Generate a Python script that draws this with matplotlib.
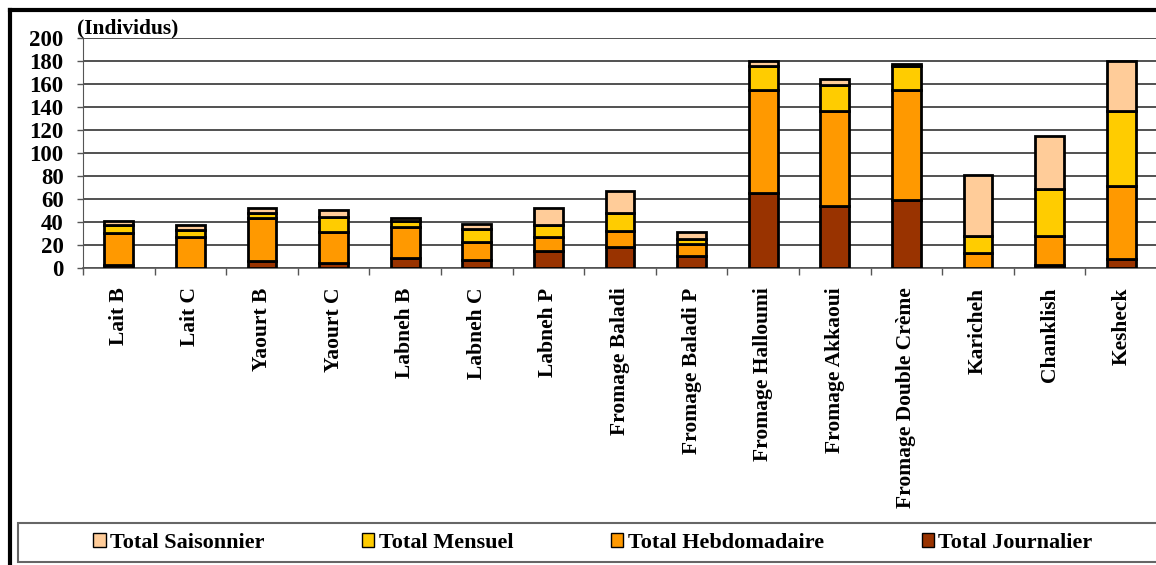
# stacked bars: frequence de consommation des produits laitiers
import numpy as np
import matplotlib.pyplot as plt
from matplotlib.patches import Rectangle, Patch
from matplotlib.lines import Line2D

produits = ['Lait B', 'Lait C', 'Yaourt B', 'Yaourt C', 'Labneh B', 'Labneh C',
            'Labneh P', 'Fromage Baladi', 'Fromage Baladi P', 'Fromage Halloumi',
            'Fromage Akkaoui', 'Fromage Double Crème', 'Karicheh', 'Chanklish',
            'Kesheck']
journalier   = [3, 0, 6, 4, 9, 7, 15, 18, 10, 65, 54, 59, 0, 3, 8]
hebdomadaire = [27, 27, 37, 27, 27, 16, 12, 14, 11, 90, 82, 96, 13, 25, 63]
mensuel      = [7, 6, 5, 13, 5, 11, 10, 16, 4, 20, 23, 20, 15, 41, 65]
saisonnier   = [4, 4, 4, 6, 2, 4, 15, 19, 6, 5, 5, 2, 53, 46, 44]

couleurs = {'journ': '#993300', 'hebdo': '#FF9900', 'mens': '#FFCC00', 'sais': '#FFCC99'}

plt.rcParams['font.family'] = ['Liberation Serif', 'DejaVu Serif']
plt.rcParams['font.weight'] = 'bold'

fig = plt.figure(figsize=(11.56, 5.65), dpi=100)
ax = fig.add_axes([83 / 1156, 1 - 268 / 565, 1074 / 1156, (268 - 37.7) / 565])

ind = np.arange(len(produits))
width = 0.4
kw = dict(width=width, edgecolor='black', linewidth=2, zorder=3)
b1 = ax.bar(ind, journalier, color=couleurs['journ'], **kw)
bas = np.array(journalier)
b2 = ax.bar(ind, hebdomadaire, bottom=bas, color=couleurs['hebdo'], **kw)
bas = bas + np.array(hebdomadaire)
b3 = ax.bar(ind, mensuel, bottom=bas, color=couleurs['mens'], **kw)
bas = bas + np.array(mensuel)
b4 = ax.bar(ind, saisonnier, bottom=bas, color=couleurs['sais'], **kw)

ax.set_xlim(-0.5, len(produits) - 0.5)
ax.set_ylim(0, 200)
ax.set_yticks(np.arange(0, 201, 20))
ax.tick_params(axis='y', labelsize=16.5, length=4, width=1, color='#555555', pad=10)
ax.yaxis.grid(True, color='#333333', linewidth=1.2, zorder=0)
ax.set_axisbelow(True)

ax.set_xticks(ind)
ax.set_xticklabels(produits, rotation=90, fontsize=15.5, va='top')
ax.tick_params(axis='x', which='major', length=0, pad=14)
ax.set_xticks(np.arange(-0.5, len(produits), 1), minor=True)
ax.tick_params(axis='x', which='minor', length=5, width=1, color='#555555')

for s in ['top', 'right']:
    ax.spines[s].set_visible(False)
ax.spines['left'].set_color('#555555')
ax.spines['bottom'].set_color('#555555')
ax.spines['bottom'].set_linewidth(1.2)

fig.text(77 / 1156, 1 - 28 / 565, '(Individus)', fontsize=15.5, ha='left', va='center')

# cadre exterieur
fig.add_artist(Line2D([10 / 1156, 1], [1 - 10 / 565, 1 - 10 / 565], color='black', linewidth=3))
fig.add_artist(Line2D([10 / 1156, 10 / 1156], [0, 1 - 10 / 565], color='black', linewidth=3))

# legende
fig.add_artist(Rectangle((18 / 1156, 1 - 562 / 565), 1.0, 39 / 565, transform=fig.transFigure,
                         facecolor='white', edgecolor='#666666', linewidth=1.5))
handles = [Patch(facecolor=couleurs['sais'], edgecolor='black'),
           Patch(facecolor=couleurs['mens'], edgecolor='black'),
           Patch(facecolor=couleurs['hebdo'], edgecolor='black'),
           Patch(facecolor=couleurs['journ'], edgecolor='black')]
labels = ['Total Saisonnier', 'Total Mensuel', 'Total Hebdomadaire', 'Total Journalier']
fig.legend(handles, labels, loc='center', bbox_to_anchor=(593 / 1156, 1 - 543 / 565),
           ncol=4, frameon=False, fontsize=16, handlelength=0.55, handleheight=0.55,
           handletextpad=0.2, columnspacing=4.4)

plt.savefig('out.png', dpi=100)
